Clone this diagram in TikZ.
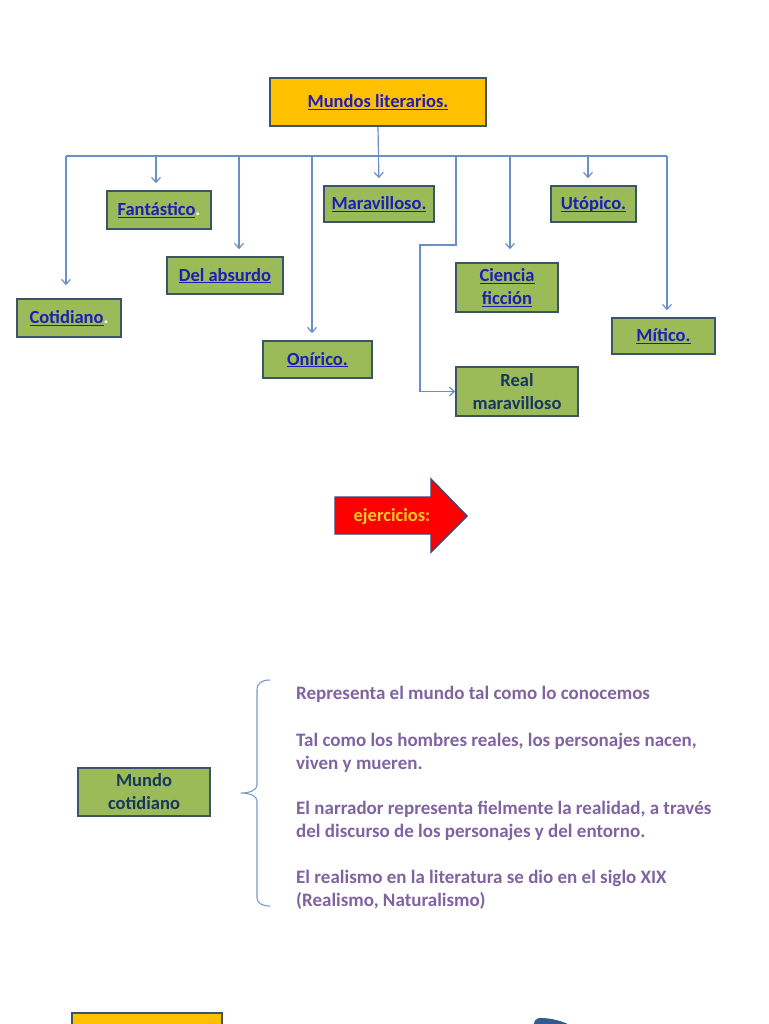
\documentclass[tikz,border=0pt]{standalone}
\usepackage{fontspec}
\setmainfont{Carlito}
\usetikzlibrary{arrows.meta}
\definecolor{gold}{RGB}{255,192,0}
\definecolor{olive}{RGB}{155,187,89}
\definecolor{boxborder}{RGB}{60,84,104}
\definecolor{conncol}{RGB}{104,144,196}
\definecolor{linkblue}{RGB}{30,30,180}
\definecolor{darktext}{RGB}{23,55,94}
\definecolor{purpletext}{RGB}{128,100,162}
\definecolor{arrowred}{RGB}{255,0,0}
\definecolor{arrowborder}{RGB}{60,70,120}
\definecolor{yellowtext}{RGB}{250,200,40}
\definecolor{bracecol}{RGB}{120,155,205}
\definecolor{darkshape}{RGB}{50,90,140}
\newcommand{\ulk}[1]{\setbox0\hbox{#1}\rlap{\rule[-2.4pt]{\wd0}{1pt}}\box0}
\tikzset{
  basefont/.style={font=\fontsize{18.5}{23}\selectfont\bfseries},
  gbox/.style={basefont, draw=boxborder, line width=1.6pt, fill=olive, inner sep=0pt, align=center, text=linkblue},
  onel/.style={text height=13.5pt, text depth=2.5pt},
  conn/.style={draw=conncol, line width=1.2pt},
  arr/.style={conn, -{Straight Barb[length=5pt,width=9pt]}},
  para/.style={font=\fontsize{19}{23}\selectfont\bfseries, text=purpletext, inner sep=0pt, anchor=base west},
}
\begin{document}
\begin{tikzpicture}[x=1pt,y=-1pt]
\clip (0,0) rectangle (768,1024);
\fill[white] (0,0) rectangle (768,1024);

% top box
\node[gbox, onel, fill=gold, minimum width=216, minimum height=48] (top) at (378,102) {\ulk{Mundos literarios.}};

% category boxes
\node[gbox, onel, minimum width=104, minimum height=38] (cot) at (69,318) {\ulk{Cotidiano}\textcolor{white}{.}};
\node[gbox, onel, minimum width=104, minimum height=38] (fan) at (159,210) {\ulk{Fantástico}\textcolor{white}{.}};
\node[gbox, onel, minimum width=116, minimum height=37] (abs) at (225,275.5) {\ulk{Del absurdo}};
\node[gbox, onel, minimum width=109, minimum height=37] (oni) at (317.5,359.5) {\ulk{Onírico.}};
\node[gbox, onel, minimum width=110, minimum height=36] (mar) at (379,204) {\ulk{Maravilloso.}};
\node[gbox, minimum width=122, minimum height=49, text=darktext] (rm) at (517,391.5) {Real\\maravilloso};
\node[gbox, minimum width=102, minimum height=49] (cf) at (507,287.5) {\ulk{Ciencia}\\\ulk{ficción}};
\node[gbox, onel, minimum width=85, minimum height=36] (uto) at (593.5,204) {\ulk{Utópico.}};
\node[gbox, onel, minimum width=103, minimum height=36] (mit) at (663.5,336) {\ulk{Mítico.}};

% bus
\coordinate (bcot) at (66,156);
\coordinate (bfan) at (156,156);
\coordinate (babs) at (239,156);
\coordinate (boni) at (312,156);
\coordinate (brm) at (456,156);
\coordinate (bcf) at (510,156);
\coordinate (buto) at (588,156);
\coordinate (bmit) at (667,156);
\coordinate (rmk1) at (456,245);
\coordinate (rmk2) at (420,245);
\draw[conn] (bcot) -- (bmit);
\draw[arr, shorten >=7pt] (top.south) -- (mar.north);
\draw[arr, shorten >=13pt] (bcot) -- (bcot |- cot.north);
\draw[arr, shorten >=7pt] (bfan) -- (bfan |- fan.north);
\draw[arr, shorten >=7pt] (babs) -- (babs |- abs.north);
\draw[arr, shorten >=7pt] (boni) -- (boni |- oni.north);
\draw[arr, shorten >=13pt] (bcf) -- (bcf |- cf.north);
\draw[arr, shorten >=7pt] (buto) -- (buto |- uto.north);
\draw[arr, shorten >=7pt] (bmit) -- (bmit |- mit.north);
\draw[arr] (brm) -- (rmk1) -- (rmk2) |- (rm.west);

% ejercicios arrow
\draw[fill=arrowred, draw=arrowborder, line width=1.4pt, line join=miter]
  (335,497) -- (431,497) -- (431,479) -- (467,516) -- (431,552) -- (431,534) -- (335,534) -- cycle;
\node[basefont, text=yellowtext, inner sep=0pt, onel] (ej) at (392,516) {ejercicios:};

% mundo cotidiano
\node[gbox, minimum width=132, minimum height=48, text=darktext] (mc) at (144,792) {Mundo\\cotidiano};
\draw[draw=bracecol, line width=1.1pt]
  (270,680) .. controls (262,680) and (257,683) .. (257,690) -- (257,785)
  .. controls (257,790) and (250,793) .. (241,793)
  .. controls (250,793) and (257,796) .. (257,801) -- (257,898)
  .. controls (257,903) and (262,906) .. (270,906);

\node[para] (l1) at (296,699) {Representa el mundo tal como lo conocemos};
\node[para] (l2) at (296,746) {Tal como los hombres reales, los personajes nacen,};
\node[para] (l3) at (296,769) {viven y mueren.};
\node[para] (l4) at (296,814) {El narrador representa fielmente la realidad, a través};
\node[para] (l5) at (296,837) {del discurso de los personajes y del entorno.};
\node[para] (l6) at (296,883) {El realismo en la literatura se dio en el siglo XIX};
\node[para] (l7) at (296,906) {(Realismo, Naturalismo)};

% partial shapes at bottom
\draw[fill=gold, draw=boxborder, line width=1.6pt] (72,1013) rectangle (222,1050);
\fill[darkshape] (533,1030) .. controls (533,1021) and (536,1018) .. (540,1018)
  .. controls (552,1018) and (562,1021) .. (572,1026) -- (572,1030) -- cycle;
\end{tikzpicture}
\end{document}
